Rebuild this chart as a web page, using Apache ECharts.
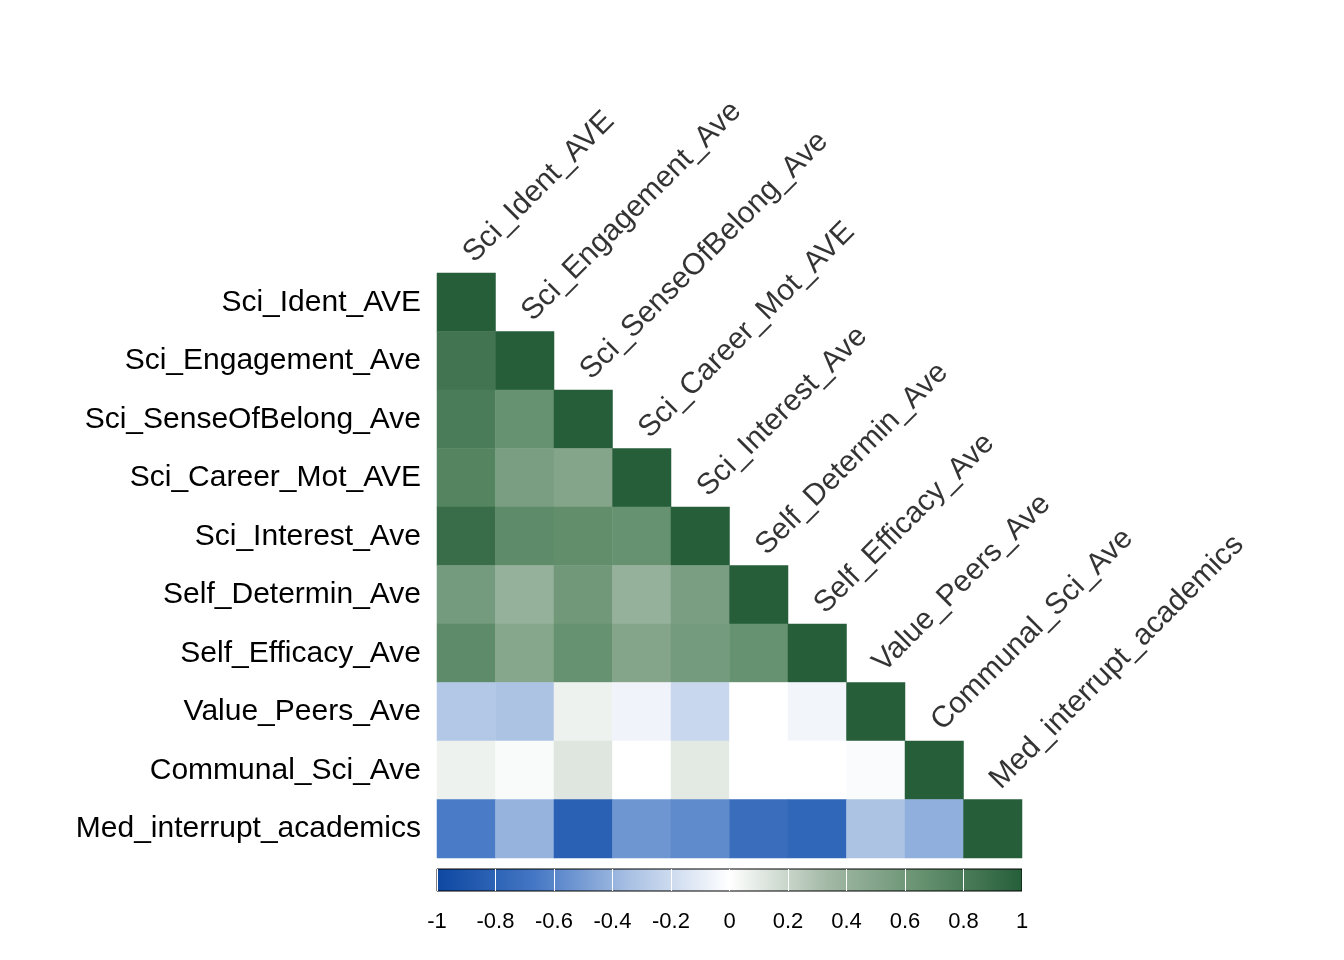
<!DOCTYPE html><html><head><meta charset="utf-8">
<script src="https://cdn.jsdelivr.net/npm/echarts@6/dist/echarts.min.js"></script>
<style>html,body{margin:0;background:#fff}#c{width:1344px;height:960px}</style></head><body><div id="c"></div>
<script>
const names=["Sci_Ident_AVE","Sci_Engagement_Ave","Sci_SenseOfBelong_Ave","Sci_Career_Mot_AVE","Sci_Interest_Ave","Self_Determin_Ave","Self_Efficacy_Ave","Value_Peers_Ave","Communal_Sci_Ave","Med_interrupt_academics"];
const lowerRows=[
 [1],
 [0.85,1],
 [0.8,0.65,1],
 [0.75,0.55,0.5,1],
 [0.9,0.7,0.68,0.65,1],
 [0.58,0.4,0.6,0.4,0.55,1],
 [0.7,0.48,0.65,0.5,0.58,0.65,1],
 [-0.3,-0.33,0.06,-0.06,-0.22,0.0,-0.05,1],
 [0.06,0.02,0.12,0.0,0.1,0.0,0.0,-0.02,1],
 [-0.65,-0.4,-0.82,-0.53,-0.58,-0.73,-0.78,-0.33,-0.42,1]
];
const barTicks=[-1,-0.8,-0.6,-0.4,-0.2,0,0.2,0.4,0.6,0.8,1];
const colors=['#0d47a1','#4477c4','#abc2e4','#ffffff','#a3b9a6','#64906e','#265e3a'];
const data=[];
lowerRows.forEach((r,i)=>r.forEach((v,j)=>data.push([j,i,v])));
const diag=names.map((n,i)=>({value:[i,i],name:n}));
const F='Arial, Liberation Sans, sans-serif';
const chart=echarts.init(document.getElementById('c'));
chart.setOption({
 animation:false,
 grid:[{left:437,top:273,width:585,height:585},
  {left:437,top:869,width:585,height:22,show:true,borderColor:'#000',borderWidth:1,
   backgroundColor:new echarts.graphic.LinearGradient(0,0,1,0,colors.map((c,k)=>({offset:k/(colors.length-1),color:c})))}],
 xAxis:[{type:'category',data:names,gridIndex:0,show:false},
  {type:'value',gridIndex:1,min:-1,max:1,interval:0.2,position:'bottom',
   axisLine:{show:false},axisTick:{show:true,inside:true,length:22,lineStyle:{color:'#fff',width:1}},splitLine:{show:false},
   axisLabel:{fontSize:22,color:'#000',fontFamily:F,margin:20,formatter:v=>String(Math.round(v*10)/10)}}],
 yAxis:[{type:'category',data:names,inverse:true,gridIndex:0,axisLine:{show:false},axisTick:{show:false},
   axisLabel:{fontSize:30,color:'#000',fontFamily:F,margin:16}},
  {type:'value',gridIndex:1,show:false}],
 visualMap:{show:false,min:-1,max:1,dimension:2,seriesIndex:0,inRange:{color:colors}},
 series:[{type:'heatmap',data:data,xAxisIndex:0,yAxisIndex:0,itemStyle:{borderWidth:0}},
  {type:'scatter',data:diag,symbolSize:0,xAxisIndex:0,yAxisIndex:0,
   label:{show:true,formatter:p=>p.name,rotate:45,align:'left',verticalAlign:'middle',position:'top',distance:0,offset:[33,-30],
     fontSize:30,color:'#000',fontFamily:F}}]
});
</script></body></html>
